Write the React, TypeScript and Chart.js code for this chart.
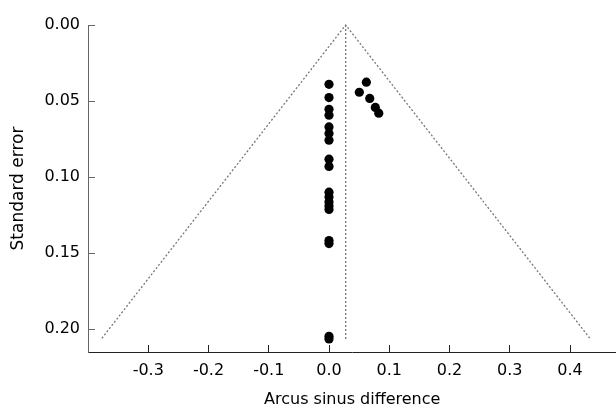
import React, { useEffect, useRef } from "react";
import { Chart, registerables } from "chart.js";

Chart.register(...registerables);

// Study points: arcus sinus difference (x) and standard error (y)
const STUDY_DIFF = [
  0, 0, 0, 0, 0, 0, 0, 0, 0, 0, 0, 0, 0, 0, 0, 0, 0, 0,
  0.062, 0.0503, 0.0676, 0.0769, 0.0826,
];
const STUDY_SE = [
  0.039, 0.0477, 0.0554, 0.0593, 0.067, 0.0713, 0.0757, 0.0882, 0.093,
  0.1099, 0.1131, 0.1164, 0.119, 0.1213, 0.1417, 0.1437, 0.2047, 0.2064,
  0.0376, 0.0442, 0.0483, 0.0542, 0.058,
];

// Funnel (pseudo 95% limits) and pooled estimate
const POOLED = 0.0277;
const FUNNEL_LOWER = -0.377;
const FUNNEL_UPPER = 0.433;
const FUNNEL_SE_MAX = 0.206;

const X_TICKS = [-0.3, -0.2, -0.1, 0.0, 0.1, 0.2, 0.3, 0.4];
const Y_TICKS = [0.0, 0.05, 0.1, 0.15, 0.2];

const X_TITLE = "Arcus sinus difference";
const Y_TITLE = "Standard error";

export default function App() {
  const ref = useRef<HTMLCanvasElement | null>(null);

  useEffect(() => {
    if (!ref.current) return;
    const font = { family: "'DejaVu Sans', Verdana, sans-serif", size: 16 };
    const points = STUDY_DIFF.map((x, i) => ({ x, y: STUDY_SE[i] }));
    const lineStyle = {
      type: "line" as const,
      showLine: true,
      borderColor: "#777",
      borderWidth: 1.3,
      borderDash: [2, 2],
      pointRadius: 0,
      fill: false,
      clip: false as any,
    };
    const chart = new Chart(ref.current, {
      type: "scatter",
      data: {
        datasets: [
          {
            data: points,
            backgroundColor: "#000",
            borderWidth: 0,
            pointRadius: 4.6,
            pointHoverRadius: 4.6,
          } as any,
          {
            ...lineStyle,
            data: [
              { x: FUNNEL_LOWER, y: FUNNEL_SE_MAX },
              { x: POOLED, y: 0 },
              { x: FUNNEL_UPPER, y: FUNNEL_SE_MAX },
            ],
          },
          {
            ...lineStyle,
            data: [
              { x: POOLED, y: 0 },
              { x: POOLED, y: FUNNEL_SE_MAX + 0.001 },
            ],
          },
        ],
      },
      options: {
        responsive: false,
        animation: false,
        devicePixelRatio: 1,
        layout: { padding: { top: 25, right: 0, bottom: 0, left: 0 } },
        plugins: { legend: { display: false }, tooltip: { enabled: false } },
        scales: {
          x: {
            type: "linear",
            min: -0.4,
            max: 0.477,
            afterBuildTicks: (s: any) => {
              s.ticks = X_TICKS.map((v) => ({ value: v }));
            },
            afterFit: (s: any) => {
              s.height = 57;
            },
            grid: {
              display: true,
              drawOnChartArea: false,
              drawTicks: true,
              tickLength: -7,
              tickColor: "#222",
              tickWidth: 1,
            },
            border: { display: true, color: "#222", width: 1 },
            ticks: {
              color: "#000",
              font,
              padding: 16,
              maxRotation: 0,
              autoSkip: false,
              callback: (v: any) => Number(v).toFixed(1),
            },
            title: {
              display: true,
              text: X_TITLE,
              color: "#000",
              font,
              padding: { top: 0, bottom: 0 },
            },
          },
          y: {
            type: "linear",
            reverse: true,
            min: 0,
            max: 0.215,
            afterBuildTicks: (s: any) => {
              s.ticks = Y_TICKS.map((v) => ({ value: v }));
            },
            afterFit: (s: any) => {
              s.width = 88;
            },
            grid: {
              display: true,
              drawOnChartArea: false,
              drawTicks: true,
              tickLength: -7,
              tickColor: "#666",
              tickWidth: 1,
            },
            border: { display: true, color: "#666", width: 1 },
            ticks: {
              color: "#000",
              font,
              padding: 15,
              autoSkip: false,
              callback: (v: any) => Number(v).toFixed(2),
            },
            title: {
              display: true,
              text: Y_TITLE,
              color: "#000",
              font: { ...font, size: 17 },
              padding: { top: 8, bottom: 0 },
            },
          },
        },
      },
    });
    return () => chart.destroy();
  }, []);

  return (
    <div
      style={{
        position: "absolute",
        left: 0,
        top: 0,
        width: 616,
        height: 409,
        background: "#fff",
        overflow: "hidden",
      }}
    >
      <canvas ref={ref} width={621} height={409} style={{ display: "block" }} />
    </div>
  );
}
